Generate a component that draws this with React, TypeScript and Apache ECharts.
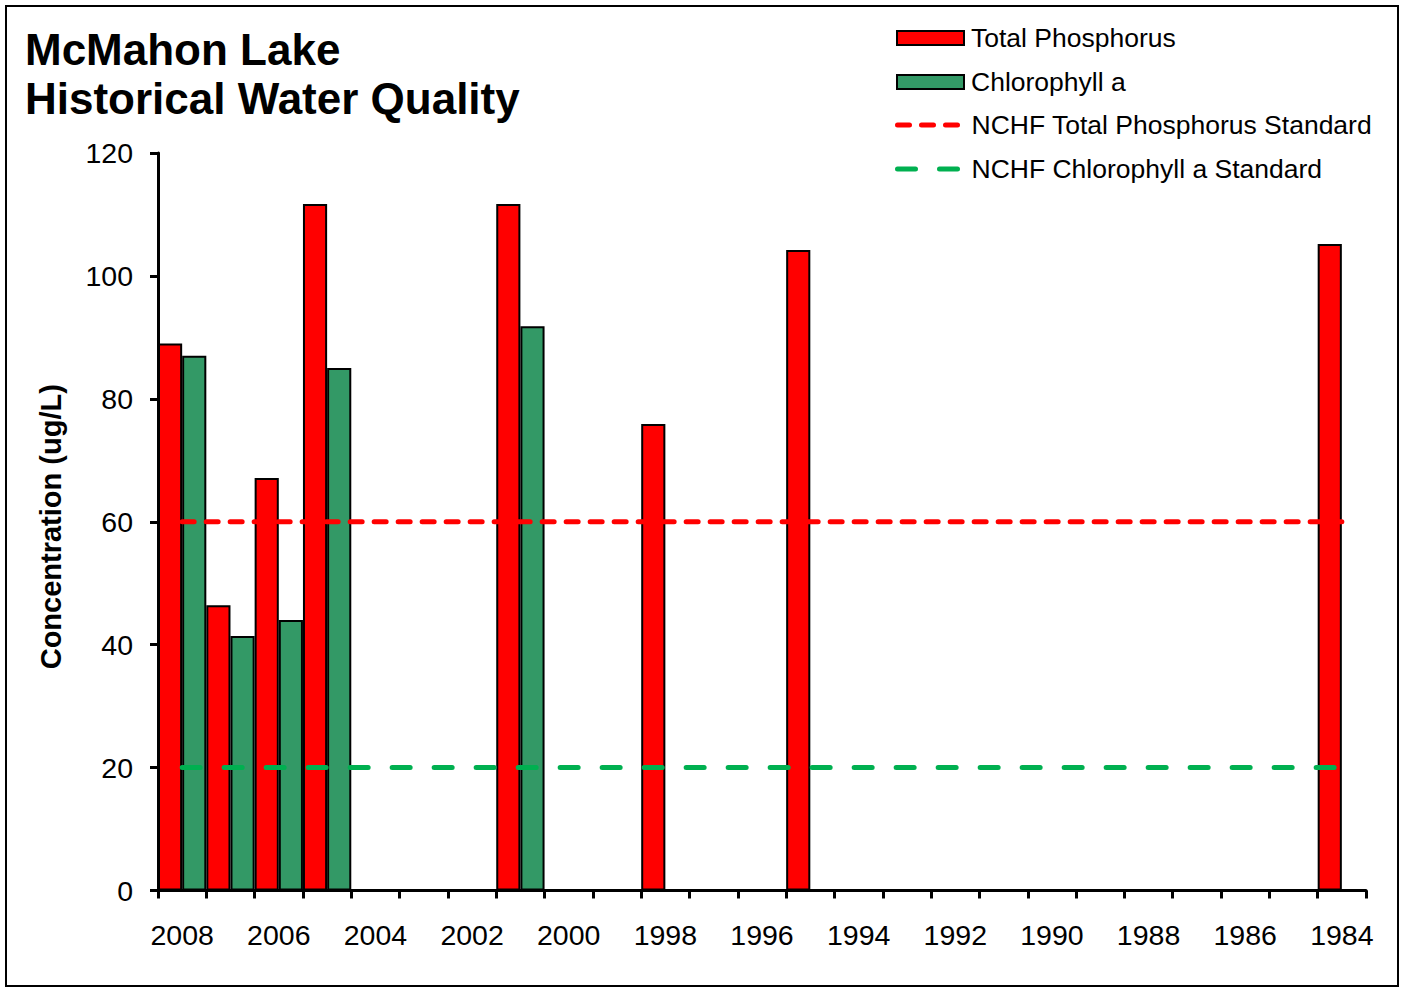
import React, { useEffect, useRef } from "react";
import * as echarts from "echarts";

const years = [
  "2008", "2007", "2006", "2005", "2004", "2003", "2002", "2001", "2000",
  "1999", "1998", "1997", "1996", "1995", "1994", "1993", "1992", "1991",
  "1990", "1989", "1988", "1987", "1986", "1985", "1984",
];

const totalPhosphorus = [
  89.0, 46.4, 67.1, 111.7, null, null, null, 111.7, null, null, 75.9, null,
  null, 104.2, null, null, null, null, null, null, null, null, null, null, 105.2,
];

const chlorophyllA = [
  87.0, 41.4, 44.0, 85.0, null, null, null, 91.8, null, null, null, null,
  null, null, null, null, null, null, null, null, null, null, null, null, null,
];

const tpStandard = 60;
const chlStandard = 20;

const yMin = 0;
const yMax = 120;
const yInterval = 20;

const FONT = "'Liberation Sans', Arial, Helvetica, sans-serif";

export default function App() {
  const ref = useRef<HTMLDivElement>(null);

  useEffect(() => {
    if (!ref.current) return;
    const chart = echarts.init(ref.current, undefined, { renderer: "svg" });

    const legendText = (padLeft: number) => ({
      fontSize: 26.5,
      lineHeight: 26,
      color: "#000",
      fontFamily: FONT,
      padding: [2, 0, 0, padLeft],
    });

    chart.setOption({
      animation: false,
      backgroundColor: "#fff",
      textStyle: { fontFamily: FONT },
      title: {
        text: "McMahon Lake\nHistorical Water Quality",
        left: 25,
        top: 25,
        padding: 0,
        textStyle: {
          fontSize: 44,
          fontWeight: "bold",
          lineHeight: 49,
          color: "#000",
          fontFamily: FONT,
        },
      },
      graphic: [
        {
          type: "rect",
          silent: true,
          shape: { x: 6, y: 6, width: 1392, height: 980 },
          style: { fill: "none", stroke: "#000", lineWidth: 2 },
        },
      ],
      legend: [
        {
          data: ["Total Phosphorus"],
          left: 896,
          top: 24,
          padding: 0,
          orient: "vertical",
          icon: "rect",
          itemWidth: 67,
          itemHeight: 14,
          selectedMode: false,
          textStyle: legendText(2),
        },
        {
          data: ["Chlorophyll a"],
          left: 896,
          top: 68,
          padding: 0,
          orient: "vertical",
          icon: "rect",
          itemWidth: 67,
          itemHeight: 14,
          selectedMode: false,
          textStyle: legendText(2),
        },
        {
          data: ["NCHF Total Phosphorus Standard"],
          left: 895,
          top: 111,
          padding: 0,
          orient: "vertical",
          itemWidth: 61,
          itemHeight: 14,
          selectedMode: false,
          itemStyle: { opacity: 0 },
          lineStyle: { width: 5, type: [12, 12], cap: "round", opacity: 1 },
          textStyle: legendText(8),
        },
        {
          data: ["NCHF Chlorophyll a Standard"],
          left: 895,
          top: 155,
          padding: 0,
          orient: "vertical",
          itemWidth: 61,
          itemHeight: 14,
          selectedMode: false,
          itemStyle: { opacity: 0 },
          lineStyle: { width: 5, type: [18, 24], cap: "round", opacity: 1 },
          textStyle: legendText(8),
        },
      ],
      grid: {
        left: 158,
        right: 37,
        top: 153,
        bottom: 98.5,
        outerBoundsMode: "none",
        containLabel: false,
      },
      xAxis: {
        type: "category",
        data: years,
        boundaryGap: true,
        axisLine: { show: true, lineStyle: { color: "#000", width: 3 } },
        axisTick: {
          show: true,
          interval: 0,
          alignWithLabel: false,
          length: 8,
          lineStyle: { color: "#000", width: 3 },
        },
        axisLabel: {
          interval: 1,
          margin: 30,
          fontSize: 28.5,
          color: "#000",
          fontFamily: FONT,
        },
        splitLine: { show: false },
      },
      yAxis: {
        type: "value",
        min: yMin,
        max: yMax,
        interval: yInterval,
        name: "Concentration (ug/L)",
        nameLocation: "middle",
        nameGap: 93,
        nameTextStyle: {
          fontSize: 29,
          fontWeight: "bold",
          color: "#000",
          fontFamily: FONT,
          padding: [0, 10, 0, 0],
        },
        axisLine: { show: true, lineStyle: { color: "#000", width: 3 } },
        axisTick: {
          show: true,
          inside: false,
          length: 8,
          lineStyle: { color: "#000", width: 3 },
        },
        axisLabel: {
          margin: 25,
          fontSize: 28.5,
          color: "#000",
          fontFamily: FONT,
        },
        splitLine: { show: false },
      },
      series: [
        {
          name: "Total Phosphorus",
          type: "bar",
          data: totalPhosphorus,
          barGap: "0%",
          barCategoryGap: "0%",
          z: 2,
          itemStyle: { color: "#FF0000", borderColor: "#000", borderWidth: 2 },
        },
        {
          name: "Chlorophyll a",
          type: "bar",
          data: chlorophyllA,
          barGap: "0%",
          barCategoryGap: "0%",
          z: 2,
          itemStyle: { color: "#339966", borderColor: "#000", borderWidth: 2 },
        },
        {
          name: "NCHF Total Phosphorus Standard",
          type: "line",
          data: years.map(() => tpStandard),
          symbol: "none",
          z: 4,
          itemStyle: { color: "#FF0000" },
          lineStyle: { color: "#FF0000", width: 5, type: [12, 12], cap: "round" },
        },
        {
          name: "NCHF Chlorophyll a Standard",
          type: "line",
          data: years.map(() => chlStandard),
          symbol: "none",
          z: 4,
          itemStyle: { color: "#00B050" },
          lineStyle: { color: "#00B050", width: 5, type: [18, 24], cap: "round" },
        },
      ],
    });

    return () => {
      chart.dispose();
    };
  }, []);

  return (
    <div
      ref={ref}
      style={{
        position: "absolute",
        left: 0,
        top: 0,
        width: 1403,
        height: 989,
        background: "#fff",
      }}
    />
  );
}
